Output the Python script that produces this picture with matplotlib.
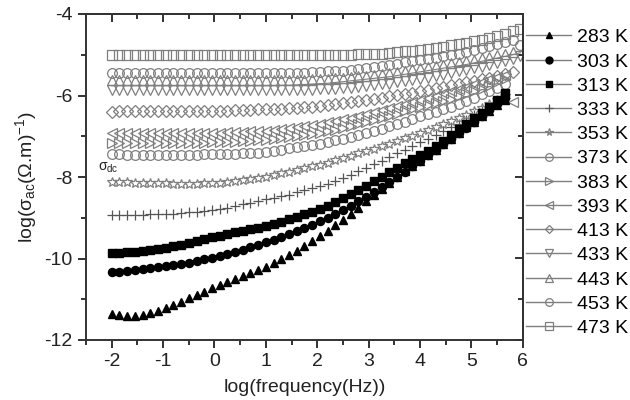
import matplotlib
matplotlib.use("Agg")
import matplotlib.pyplot as plt
from matplotlib.lines import Line2D
from matplotlib.ticker import MultipleLocator

plt.rcParams['font.family'] = ['Liberation Sans', 'DejaVu Sans']
plt.rcParams['mathtext.fontset'] = 'custom'
plt.rcParams['mathtext.rm'] = 'Liberation Sans'
plt.rcParams['mathtext.it'] = 'Liberation Sans'
plt.rcParams['mathtext.sf'] = 'Liberation Sans'
plt.rcParams['axes.unicode_minus'] = False

# log10 of frequency (Hz)
logf = [-2.00, -1.85, -1.70, -1.55, -1.40, -1.25, -1.10, -0.95, -0.80, -0.65,
        -0.50, -0.35, -0.20, -0.05, 0.10, 0.25, 0.40, 0.55, 0.70, 0.85,
        1.00, 1.15, 1.30, 1.45, 1.60, 1.75, 1.90, 2.05, 2.20, 2.35,
        2.50, 2.65, 2.80, 2.95, 3.10, 3.25, 3.40, 3.55, 3.70, 3.85,
        4.00, 4.15, 4.30, 4.45, 4.60, 4.75, 4.90, 5.05, 5.20, 5.35,
        5.50, 5.65, 5.80, 5.95]

# log(sigma_ac) per temperature
s283 = [-11.36, -11.38, -11.40, -11.40, -11.38, -11.34, -11.28, -11.21, -11.14, -11.06,
        -10.98, -10.90, -10.81, -10.73, -10.65, -10.58, -10.50, -10.43, -10.35, -10.27,
        -10.20, -10.11, -10.02, -9.92, -9.82, -9.70, -9.58, -9.46, -9.33, -9.19,
        -9.05, -8.90, -8.75, -8.60, -8.45, -8.30, -8.15, -8.00, -7.86, -7.73,
        -7.60, -7.47, -7.34, -7.20, -7.06, -6.92, -6.78, -6.64, -6.51, -6.38,
        -6.24, -6.10]
s303 = [-10.33, -10.32, -10.30, -10.28, -10.26, -10.24, -10.22, -10.19, -10.16, -10.13,
        -10.10, -10.06, -10.02, -9.98, -9.94, -9.89, -9.84, -9.79, -9.73, -9.67,
        -9.60, -9.54, -9.47, -9.40, -9.33, -9.25, -9.17, -9.09, -9.00, -8.90,
        -8.80, -8.70, -8.59, -8.48, -8.37, -8.25, -8.13, -8.00, -7.87, -7.74,
        -7.60, -7.47, -7.34, -7.20, -7.07, -6.93, -6.79, -6.65, -6.51, -6.36,
        -6.21, -6.05]
s313 = [-9.87, -9.86, -9.85, -9.84, -9.82, -9.80, -9.77, -9.74, -9.70, -9.66,
        -9.62, -9.58, -9.53, -9.48, -9.44, -9.40, -9.36, -9.32, -9.28, -9.24,
        -9.20, -9.15, -9.10, -9.04, -8.98, -8.92, -8.86, -8.79, -8.71, -8.62,
        -8.52, -8.42, -8.32, -8.21, -8.10, -7.99, -7.88, -7.77, -7.66, -7.55,
        -7.45, -7.35, -7.24, -7.12, -6.98, -6.83, -6.69, -6.55, -6.42, -6.29,
        -6.12, -5.95]
s333 = [-8.93, -8.93, -8.93, -8.93, -8.93, -8.92, -8.92, -8.91, -8.90, -8.89,
        -8.87, -8.85, -8.83, -8.81, -8.78, -8.75, -8.71, -8.67, -8.63, -8.59,
        -8.55, -8.51, -8.47, -8.43, -8.38, -8.33, -8.28, -8.23, -8.17, -8.10,
        -8.02, -7.94, -7.86, -7.78, -7.69, -7.60, -7.51, -7.42, -7.33, -7.24,
        -7.15, -7.06, -6.97, -6.88, -6.78, -6.69, -6.59, -6.49, -6.38, -6.27,
        -6.16, -6.05]
s353 = [-8.12, -8.13, -8.13, -8.14, -8.14, -8.15, -8.15, -8.15, -8.16, -8.16,
        -8.16, -8.16, -8.15, -8.15, -8.14, -8.12, -8.10, -8.08, -8.05, -8.02,
        -7.99, -7.95, -7.91, -7.87, -7.83, -7.78, -7.74, -7.70, -7.65, -7.59,
        -7.54, -7.48, -7.42, -7.37, -7.31, -7.25, -7.18, -7.12, -7.05, -6.99,
        -6.92, -6.85, -6.78, -6.70, -6.63, -6.55, -6.47, -6.39, -6.30, -6.20,
        -6.10, -6.00]
s373 = [-7.44, -7.44, -7.45, -7.45, -7.45, -7.45, -7.45, -7.45, -7.45, -7.45,
        -7.45, -7.45, -7.44, -7.44, -7.44, -7.44, -7.43, -7.42, -7.41, -7.40,
        -7.38, -7.36, -7.33, -7.30, -7.27, -7.24, -7.21, -7.18, -7.14, -7.10,
        -7.06, -7.01, -6.96, -6.91, -6.86, -6.81, -6.76, -6.70, -6.64, -6.57,
        -6.50, -6.45, -6.40, -6.34, -6.28, -6.21, -6.13, -6.05, -5.97, -5.89,
        -5.81, -5.72]
s383 = [-7.17, -7.17, -7.17, -7.17, -7.17, -7.17, -7.17, -7.17, -7.17, -7.17,
        -7.16, -7.16, -7.16, -7.15, -7.15, -7.14, -7.13, -7.12, -7.11, -7.10,
        -7.09, -7.07, -7.05, -7.03, -7.00, -6.98, -6.95, -6.92, -6.88, -6.84,
        -6.80, -6.76, -6.71, -6.66, -6.61, -6.56, -6.50, -6.45, -6.39, -6.34,
        -6.28, -6.23, -6.18, -6.13, -6.08, -6.02, -5.96, -5.90, -5.83, -5.76,
        -5.68, -5.60]
s393 = [-6.92, -6.92, -6.92, -6.92, -6.92, -6.92, -6.92, -6.92, -6.92, -6.92,
        -6.92, -6.91, -6.91, -6.91, -6.91, -6.90, -6.90, -6.89, -6.88, -6.87,
        -6.86, -6.84, -6.82, -6.80, -6.77, -6.75, -6.72, -6.69, -6.66, -6.62,
        -6.58, -6.54, -6.50, -6.46, -6.41, -6.36, -6.31, -6.26, -6.21, -6.15,
        -6.10, -6.05, -6.00, -5.95, -5.90, -5.84, -5.78, -5.72, -5.66, -5.60,
        -5.55, -5.50, -6.16]
s413 = [-6.40, -6.39, -6.39, -6.39, -6.39, -6.39, -6.39, -6.39, -6.38, -6.38,
        -6.38, -6.38, -6.38, -6.37, -6.37, -6.37, -6.36, -6.36, -6.35, -6.34,
        -6.34, -6.33, -6.32, -6.31, -6.30, -6.29, -6.27, -6.25, -6.23, -6.21,
        -6.18, -6.16, -6.13, -6.11, -6.08, -6.05, -6.02, -5.99, -5.96, -5.93,
        -5.89, -5.86, -5.82, -5.79, -5.75, -5.72, -5.68, -5.64, -5.60, -5.56,
        -5.51, -5.47, -5.43]
s433 = [-5.87, -5.87, -5.87, -5.87, -5.87, -5.87, -5.87, -5.87, -5.87, -5.87,
        -5.87, -5.87, -5.87, -5.87, -5.87, -5.87, -5.87, -5.87, -5.87, -5.87,
        -5.87, -5.87, -5.87, -5.87, -5.87, -5.86, -5.86, -5.85, -5.84, -5.83,
        -5.82, -5.81, -5.79, -5.77, -5.75, -5.73, -5.71, -5.68, -5.65, -5.62,
        -5.59, -5.56, -5.52, -5.49, -5.45, -5.41, -5.37, -5.33, -5.29, -5.25,
        -5.20, -5.15, -5.10, -5.04]
s443 = [-5.62, -5.62, -5.62, -5.62, -5.62, -5.62, -5.62, -5.62, -5.62, -5.62,
        -5.62, -5.62, -5.62, -5.62, -5.62, -5.62, -5.62, -5.62, -5.62, -5.62,
        -5.62, -5.62, -5.62, -5.62, -5.61, -5.61, -5.60, -5.60, -5.59, -5.58,
        -5.57, -5.55, -5.53, -5.51, -5.49, -5.47, -5.45, -5.42, -5.39, -5.36,
        -5.33, -5.30, -5.27, -5.24, -5.21, -5.18, -5.15, -5.12, -5.08, -5.05,
        -5.01, -4.97, -4.93]
s453 = [-5.45, -5.45, -5.45, -5.45, -5.45, -5.45, -5.45, -5.45, -5.45, -5.45,
        -5.45, -5.45, -5.45, -5.45, -5.45, -5.45, -5.45, -5.45, -5.45, -5.45,
        -5.45, -5.45, -5.45, -5.45, -5.44, -5.44, -5.43, -5.42, -5.41, -5.40,
        -5.39, -5.37, -5.35, -5.33, -5.30, -5.28, -5.25, -5.22, -5.19, -5.16,
        -5.13, -5.10, -5.07, -5.03, -5.00, -4.97, -4.93, -4.89, -4.84, -4.79,
        -4.74, -4.69, -4.65, -4.75]
s473 = [-5.01, -5.01, -5.01, -5.01, -5.01, -5.01, -5.01, -5.01, -5.01, -5.01,
        -5.01, -5.01, -5.01, -5.01, -5.01, -5.01, -5.01, -5.01, -5.01, -5.01,
        -5.01, -5.01, -5.01, -5.01, -5.01, -5.01, -5.01, -5.01, -5.01, -5.00,
        -5.00, -5.00, -4.99, -4.99, -4.98, -4.97, -4.96, -4.94, -4.92, -4.90,
        -4.88, -4.86, -4.83, -4.80, -4.77, -4.74, -4.71, -4.67, -4.63, -4.59,
        -4.55, -4.49, -4.42, -4.36]
# thin guide curve drawn through the 433/443 K data
fit_line = [-5.76, -5.76, -5.76, -5.76, -5.76, -5.76, -5.76, -5.76, -5.76, -5.76,
            -5.76, -5.76, -5.76, -5.76, -5.76, -5.76, -5.76, -5.76, -5.76, -5.76,
            -5.76, -5.76, -5.75, -5.75, -5.74, -5.73, -5.72, -5.71, -5.70, -5.68,
            -5.66, -5.64, -5.62, -5.60, -5.58, -5.56, -5.54, -5.51, -5.48, -5.45,
            -5.42, -5.39, -5.36, -5.33, -5.30, -5.27, -5.24, -5.20, -5.16, -5.12,
            -5.08, -5.04, -5.00, -4.95]

temps = ['283 K', '303 K', '313 K', '333 K', '353 K', '373 K', '383 K',
         '393 K', '413 K', '433 K', '443 K', '453 K', '473 K']
series = [s283, s303, s313, s333, s353, s373, s383, s393, s413, s433, s443, s453, s473]
markers = ['^', 'o', 's', '+', '*', 'o', '>', '<', 'D', 'v', '^', 'o', 's']
filled = [True, True, True] + [False] * 10

gray = '#7f7f7f'
ink = '#222222'

fig = plt.figure(figsize=(6.3, 4.0), dpi=100)
ax = fig.add_axes([0.1365, 0.15, 0.6935, 0.815])

ax.plot(logf, fit_line, color=gray, lw=0.8, zorder=1)

handles = []
for name, y, m, f in zip(temps, series, markers, filled):
    x = logf[:len(y)]
    if f:
        ax.plot(x, y, ls='none', marker=m, ms=5.8, mfc='black', mec='black', zorder=3)
        h = Line2D([], [], color=gray, lw=1, marker=m, ms=5, mfc='black', mec='black')
    elif m == '+':
        ax.plot(x, y, ls='none', marker=m, ms=7, mec='#555555', mew=0.9, zorder=2)
        h = Line2D([], [], color=gray, lw=1, marker=m, ms=6, mec='#555555', mew=0.9)
    else:
        ms = 6 if m == 'D' else 7
        ax.plot(x, y, ls='none', marker=m, ms=ms, mfc='none', mec=gray, mew=0.9, zorder=2)
        h = Line2D([], [], color=gray, lw=1, marker=m, ms=5.5 if m != 'D' else 4.5,
                   mfc='none', mec=gray, mew=0.9)
    handles.append(h)

ax.text(-2.26, -7.84, r'$\sigma_{\mathrm{dc}}$', fontsize=10, color=ink)

ax.set_xlim(-2.5, 6)
ax.set_ylim(-12, -4)
ax.xaxis.set_major_locator(MultipleLocator(1))
ax.xaxis.set_minor_locator(MultipleLocator(0.5))
ax.yaxis.set_major_locator(MultipleLocator(2))
ax.yaxis.set_minor_locator(MultipleLocator(1))
ax.tick_params(which='both', direction='out', labelsize=14, colors=ink, width=1.3)
ax.tick_params(which='major', length=6)
ax.tick_params(which='minor', length=3.5)

# top and right ticks point inwards
top = ax.secondary_xaxis('top')
top.xaxis.set_major_locator(MultipleLocator(1))
top.xaxis.set_minor_locator(MultipleLocator(0.5))
top.tick_params(which='both', direction='in', labeltop=False, width=1.3, colors=ink)
top.tick_params(which='major', length=6)
top.tick_params(which='minor', length=3.5)
right = ax.secondary_yaxis('right')
right.yaxis.set_major_locator(MultipleLocator(2))
right.yaxis.set_minor_locator(MultipleLocator(1))
right.tick_params(which='both', direction='in', labelright=False, width=1.3, colors=ink)
right.tick_params(which='major', length=6)
right.tick_params(which='minor', length=3.5)

for a in (ax, top, right):
    for sp in a.spines.values():
        sp.set_linewidth(1.4)
        sp.set_color('#333333')

ax.set_xlabel('log(frequency(Hz))', fontsize=14, color=ink, labelpad=6)
ax.set_ylabel(r'log($\sigma_{\mathrm{ac}}$($\Omega$.m)$^{-1}$)', fontsize=14,
              color=ink, labelpad=4)

ax.legend(handles, temps, loc='upper left', bbox_to_anchor=(1.008, 0.955), frameon=False,
          fontsize=14, handlelength=2.3, handletextpad=0.3, labelspacing=0.34,
          borderaxespad=0.0, borderpad=0.0)

fig.savefig('out.png', dpi=100)
